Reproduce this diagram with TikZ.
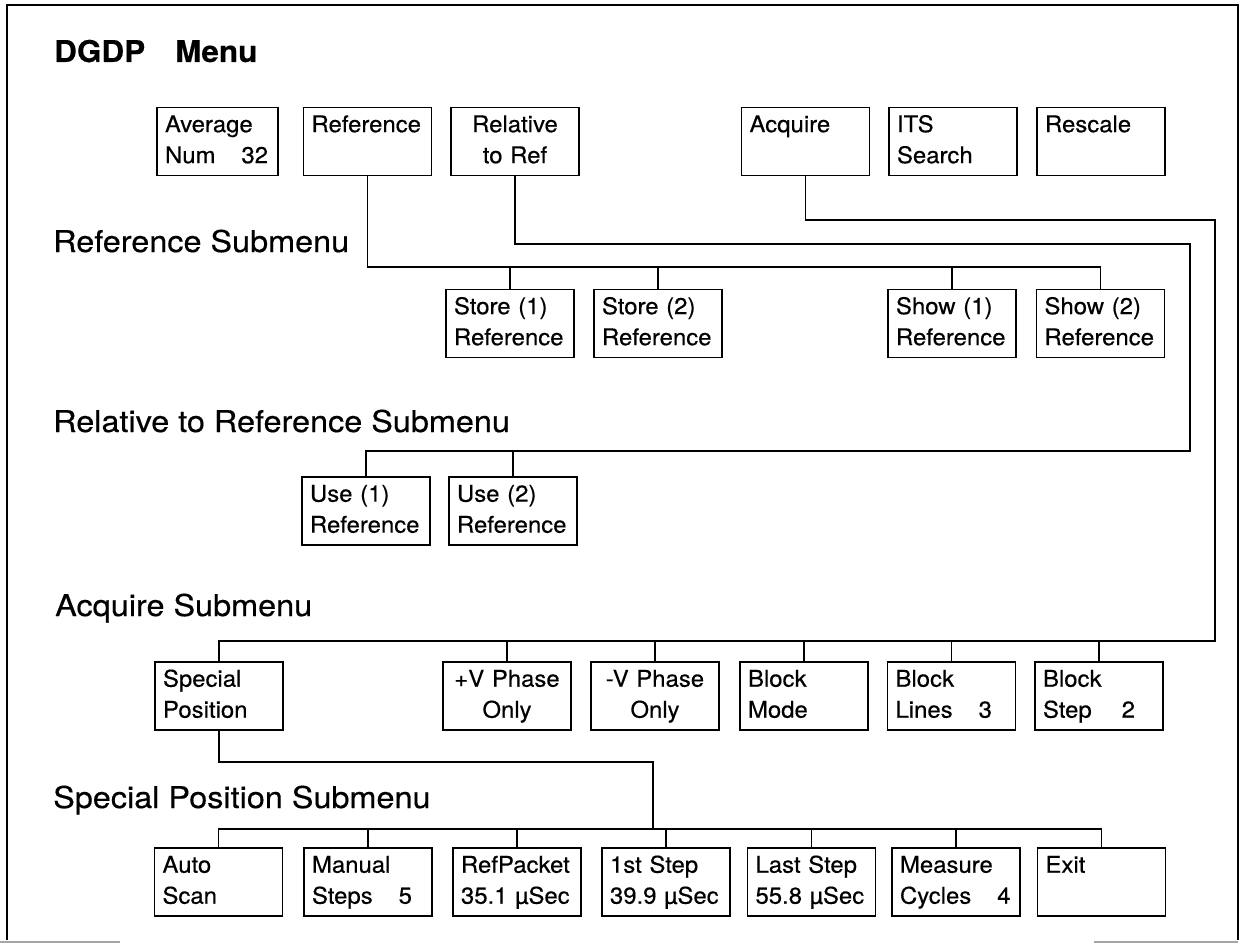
\documentclass[tikz,border=0pt]{standalone}
\usepackage{fontspec}
\setmainfont{TeX Gyre Heros}
\newfontfamily\boxfont{TeX Gyre Heros}[FakeStretch=1.04, FakeBold=0.4]
\newfontfamily\headfont{TeX Gyre Heros}[FakeStretch=1.08, FakeBold=0.4]
\newfontfamily\titlefont{TeX Gyre Heros Bold}[FakeStretch=1.05, FakeBold=0.3]
\def\twoline#1#2{\strut#1\\\strut#2}
\tikzset{
	menubox/.style={draw, line width=1.8pt, minimum width=128pt, minimum height=68pt, inner xsep=8pt, inner ysep=0pt, text width=112pt, align=left, font=\boxfont\fontsize{23}{31}\selectfont},
	wire/.style={line width=1.8pt},
	heading/.style={anchor=base west, inner sep=0pt, font=\headfont\fontsize{30}{34}\selectfont}
}

\begin{document}
\begin{tikzpicture}[x=1pt, y=-1pt]
			%%%%% START %%%%%
			\useasboundingbox (0,0) rectangle (1248,947);
			
			\draw[line width=1.8pt] (7,940) -- (7,5) -- (1238,5) -- (1238,940);
			\draw[line width=1.5pt, color=black!35] (0,942) -- (120,942);
			\draw[line width=1.5pt, color=black!35] (1094,942) -- (1238,942);
			
			\node[heading, font=\titlefont\fontsize{30}{34}\selectfont] (title) at (54,62) {DGDP\hspace{30pt}Menu};
			
			\node[menubox, minimum width=121pt, text width=105pt] (avg) at (217.5,141.5) {\twoline{Average}{Num\hspace{26pt}32}};
			\node[menubox] (ref) at (367.5,141.5) {\twoline{Reference}{}};
			\node[menubox, align=center] (rel) at (515,141.5) {\twoline{Relative}{to Ref}};
			\node[menubox] (acq) at (805.5,141.5) {\twoline{Acquire}{}};
			\node[menubox] (its) at (953,141.5) {\twoline{ITS}{Search}};
			\node[menubox] (resc) at (1101,141.5) {\twoline{Rescale}{}};
			
			\node[heading] (hdref) at (53,252) {Reference Submenu};
			\node[menubox] (store1) at (510,323.5) {\twoline{Store (1)}{Reference}};
			\node[menubox] (store2) at (658,323.5) {\twoline{Store (2)}{Reference}};
			\node[menubox] (show1) at (952,323.5) {\twoline{Show (1)}{Reference}};
			\node[menubox] (show2) at (1100.5,323.5) {\twoline{Show (2)}{Reference}};
			
			\node[heading] (hdrel) at (53,432) {Relative to Reference Submenu};
			\node[menubox] (use1) at (366,511) {\twoline{Use (1)}{Reference}};
			\node[menubox] (use2) at (513,511) {\twoline{Use (2)}{Reference}};
			
			\node[heading] (hdacq) at (55,616) {Acquire Submenu};
			\node[menubox] (spec) at (219,696) {\twoline{Special}{Position}};
			\node[menubox, align=center] (pv) at (507,696) {\twoline{+V Phase}{Only}};
			\node[menubox, align=center] (mv) at (655,696) {\twoline{-V Phase}{Only}};
			\node[menubox] (bmode) at (804,696) {\twoline{Block}{Mode}};
			\node[menubox] (blines) at (951.5,696) {\twoline{Block}{Lines\hspace{26pt}3}};
			\node[menubox] (bstep) at (1099,696) {\twoline{Block}{Step\hspace{30pt}2}};
			
			\node[heading] (hdsp) at (53,808) {Special Position Submenu};
			\node[menubox] (auto) at (218.5,882) {\twoline{Auto}{Scan}};
			\node[menubox] (manual) at (368,882) {\twoline{Manual}{Steps\hspace{26pt}5}};
			\node[menubox] (refpkt) at (517,882) {\twoline{RefPacket}{35.1 µSec}};
			\node[menubox] (first) at (666,882) {\twoline{1st Step}{39.9 µSec}};
			\node[menubox] (last) at (811.5,882) {\twoline{Last Step}{55.8 µSec}};
			\node[menubox] (measure) at (956,882) {\twoline{Measure}{Cycles\hspace{26pt}4}};
			\node[menubox] (exit) at (1101.5,882) {\twoline{Exit}{}};
			
			% reference submenu
			\coordinate (refbus) at (0,267);
			\draw[wire] (ref.south) -- (ref.south |- refbus) -| (show2.north);
			\foreach \n in {store1,store2,show1} \draw[wire] (\n.north) -- (\n.north |- refbus);
			
			% relative to reference submenu
			\coordinate (relbus) at (1190,244);
			\coordinate (usebus) at (1190,451);
			\draw[wire] (rel.south) -- (rel.south |- relbus) -- (relbus) -- (usebus) -| (use1.north);
			\draw[wire] (use2.north) -- (use2.north |- usebus);
			
			% acquire submenu
			\coordinate (acqbus) at (1215,220);
			\coordinate (acqsub) at (1215,641);
			\draw[wire] (acq.south) -- (acq.south |- acqbus) -- (acqbus) -- (acqsub) -| (spec.north);
			\foreach \n in {pv,mv,bmode,blines,bstep} \draw[wire] (\n.north) -- (\n.north |- acqsub);
			
			% special position submenu
			\coordinate (spdrop) at (653,762);
			\coordinate (spbus) at (653,829);
			\draw[wire] (spec.south) |- (spdrop) -- (spbus);
			\draw[wire] (auto.north) |- (spbus) -| (exit.north);
			\foreach \n in {manual,refpkt,first,last,measure} \draw[wire] (\n.north) -- (\n.north |- spbus);
			
			%%%%% END %%%%%
\end{tikzpicture}
\end{document}
